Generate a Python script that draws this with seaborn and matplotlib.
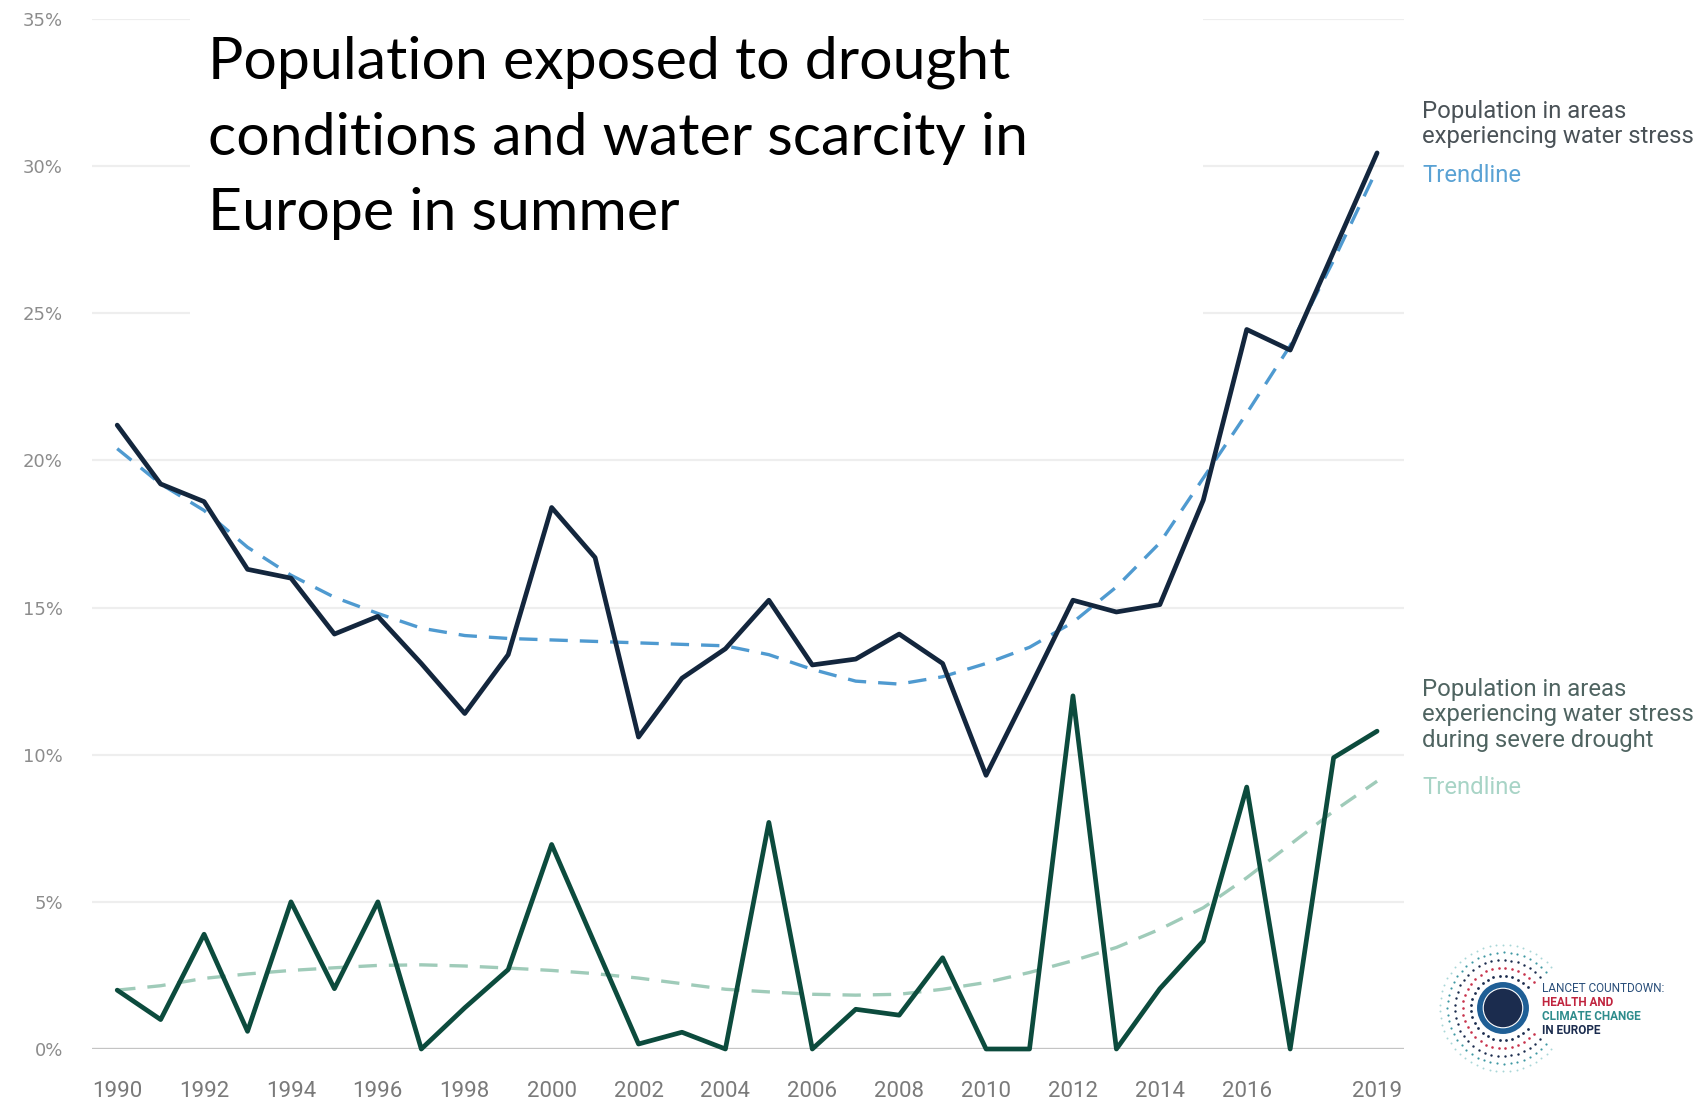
import numpy as np
import pandas as pd
import matplotlib.pyplot as plt
from matplotlib.patches import Rectangle, Circle
import seaborn as sns

years = list(range(1990, 2020))
water_stress = [21.2, 19.2, 18.6, 16.3, 16.0, 14.1, 14.7, 13.1, 11.4, 13.4,
                18.4, 16.7, 10.6, 12.6, 13.6, 15.25, 13.05, 13.25, 14.1, 13.1,
                9.3, 12.25, 15.25, 14.85, 15.1, 18.65, 24.45, 23.75, 27.1, 30.45]
water_stress_trend = [20.4, 19.2, 18.3, 17.05, 16.1, 15.35, 14.8, 14.3, 14.05, 13.95,
                      13.9, 13.85, 13.8, 13.75, 13.7, 13.4, 12.9, 12.5, 12.4, 12.65,
                      13.1, 13.65, 14.5, 15.7, 17.2, 19.4, 21.6, 23.9, 26.8, 29.9]
severe_drought = [2.0, 1.0, 3.9, 0.6, 5.0, 2.05, 5.0, 0.0, 1.4, 2.7,
                  6.95, 3.55, 0.17, 0.57, 0.0, 7.7, 0.0, 1.35, 1.15, 3.1,
                  0.0, 0.0, 12.0, 0.0, 2.05, 3.67, 8.9, 0.0, 9.9, 10.8]
severe_drought_trend = [2.0, 2.15, 2.4, 2.55, 2.67, 2.76, 2.84, 2.86, 2.82, 2.75,
                        2.67, 2.56, 2.41, 2.22, 2.03, 1.94, 1.86, 1.83, 1.86, 2.03,
                        2.26, 2.6, 3.0, 3.45, 4.07, 4.8, 5.82, 6.95, 8.08, 9.1]
y_ticks = [0, 5, 10, 15, 20, 25, 30, 35]
x_ticks = [1990, 1992, 1994, 1996, 1998, 2000, 2002, 2004, 2006, 2008,
           2010, 2012, 2014, 2016, 2019]

title = "Population exposed to drought\nconditions and water scarcity in\nEurope in summer"
label_stress = "Population in areas\nexperiencing water stress"
label_drought = "Population in areas\nexperiencing water stress\nduring severe drought"

df = pd.DataFrame({'year': years, 'stress': water_stress, 'stress_trend': water_stress_trend,
                   'drought': severe_drought, 'drought_trend': severe_drought_trend})

sns.set_style('white')
plt.rcParams['font.family'] = ['Roboto', 'DejaVu Sans']

fig = plt.figure(figsize=(17, 10.99), dpi=100)
ax = fig.add_axes([92 / 1700, 50 / 1099, 1312 / 1700, 1030 / 1099])

navy = '#13263d'
green = '#0c4b3d'
blue_tr = '#4f9ad0'
teal_tr = '#9fcbb9'

sns.lineplot(data=df, x='year', y='stress_trend', ax=ax, color=blue_tr, lw=2.4,
             linestyle=(0, (5.5, 3.6)), errorbar=None, zorder=3, clip_on=False)
sns.lineplot(data=df, x='year', y='drought_trend', ax=ax, color=teal_tr, lw=2.4,
             linestyle=(0, (5.5, 3.6)), errorbar=None, zorder=3, clip_on=False)
sns.lineplot(data=df, x='year', y='stress', ax=ax, color=navy, lw=3.4,
             errorbar=None, zorder=4, clip_on=False)
sns.lineplot(data=df, x='year', y='drought', ax=ax, color=green, lw=3.4,
             errorbar=None, zorder=4, clip_on=False)

ax.set_xlim(1989.42, 2019.62)
ax.set_ylim(0, 35)
ax.set_xticks(x_ticks)
ax.set_xticklabels([str(y) for y in x_ticks])
ax.set_yticks(y_ticks)
ax.set_yticklabels([f"{t}%" for t in y_ticks], family='DejaVu Sans')
ax.tick_params(axis='y', length=0, pad=21, labelsize=13, labelcolor='#8c8c8c')
ax.tick_params(axis='x', length=0, pad=23, labelsize=16, labelcolor='#7a7a7a')
ax.set_xlabel('')
ax.set_ylabel('')
for s in ax.spines.values():
    s.set_visible(False)
for t in y_ticks[1:]:
    ax.axhline(t, color='#eeeeee', lw=1.6, zorder=1)
ax.axhline(0, color='#c4c4c4', lw=2.4, zorder=2)

# white block behind the title (hides the gridlines there)
fig.patches.append(Rectangle((190 / 1700, 1 - 330 / 1099), 1013 / 1700, 330 / 1099,
                             transform=fig.transFigure, facecolor='white',
                             edgecolor='none', zorder=1))
fig.text(208 / 1700, 1 - 138 / 1099, title, ha='left', va='center', fontsize=42.5,
         family='Lato', color='black', linespacing=1.52, zorder=5)

fig.text(1422 / 1700, 1 - 124 / 1099, label_stress, ha='left', va='center', fontsize=17.2,
         color='#4a5257', linespacing=1.12)
fig.text(1422 / 1700, 1 - 175 / 1099, "Trendline", ha='left', va='center', fontsize=17.2,
         color='#5aa2d4')
fig.text(1422 / 1700, 1 - 715 / 1099, label_drought, ha='left', va='center', fontsize=17.2,
         color='#4f6461', linespacing=1.12)
fig.text(1422 / 1700, 1 - 787 / 1099, "Trendline", ha='left', va='center', fontsize=17.2,
         color='#a8d4c6')

# logo
lax = fig.add_axes([1435 / 1700, 1 - 1078 / 1099, 136 / 1700, 140 / 1099])
lax.set_xlim(-1.1, 1.1)
lax.set_ylim(-1.13, 1.13)
lax.set_aspect('equal')
lax.axis('off')
ring_cols = ['#1b2c4e', '#c8334c', '#1b2c4e', '#3f98a3', '#a9d6d8']
for i, (r, c) in enumerate(zip([0.52, 0.65, 0.78, 0.9, 1.02], ring_cols)):
    n = int(26 + i * 5)
    ang = np.linspace(np.radians(40), np.radians(320), n)
    lax.scatter(r * np.cos(ang), r * np.sin(ang), s=4 - i * 0.5, color=c, lw=0)
lax.add_patch(Circle((0, 0), 0.42, facecolor='#1f5f96', edgecolor='none'))
lax.add_patch(Circle((0, 0), 0.32, facecolor='#1b2c4e', edgecolor='white', lw=0.8))

logo_lines = [("LANCET COUNTDOWN:", '#2a4f7a', 'normal'),
              ("HEALTH AND", '#c0243e', 'bold'),
              ("CLIMATE CHANGE", '#2e8c8c', 'bold'),
              ("IN EUROPE", '#1b2c4e', 'bold')]
for i, (txt, col, wt) in enumerate(logo_lines):
    fig.text(1542 / 1700, 1 - (989 + 14 * i) / 1099, txt, ha='left', va='center',
             fontsize=8.5, color=col, weight=wt)

fig.savefig('out.png', dpi=100, facecolor='white')
